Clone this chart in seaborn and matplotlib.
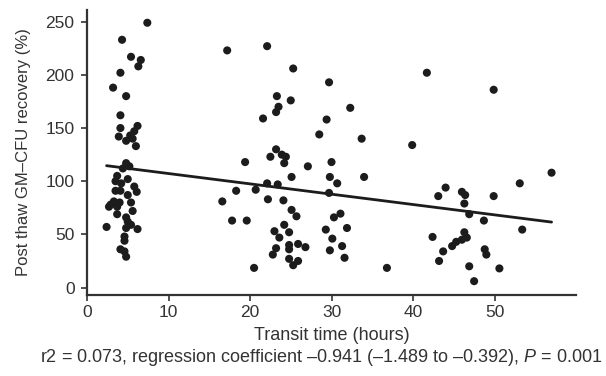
import numpy as np
import pandas as pd
import matplotlib
matplotlib.use("Agg")
import matplotlib.pyplot as plt
import seaborn as sns

# Transit time (hours) and post-thaw GM-CFU recovery (%)
transit_hours = [
    7.4, 4.3, 5.4, 6.6, 6.3, 4.1, 3.2, 4.8, 4.1, 4.1, 6.2, 5.8, 5.3, 3.9, 4.8, 5.6,
    6.0, 4.8, 5.2, 4.4, 3.7, 3.5, 5.0, 4.2, 5.8, 6.1, 3.5, 4.1, 5.0, 3.3, 5.4, 2.9,
    2.7, 3.7, 4.0, 5.6, 3.7, 4.8, 5.0, 5.4, 6.2, 2.4, 4.8, 4.6, 4.6, 4.1, 4.6, 4.8,
    17.2, 22.1, 25.3, 23.3, 25.0, 23.5, 23.2, 21.6, 23.2, 23.9, 22.5, 24.2, 19.4,
    25.1, 22.1, 23.4, 20.7, 18.3, 16.6, 22.2, 24.1, 25.1, 25.7, 17.8, 19.6, 24.2,
    23.0, 24.8, 23.6, 24.8, 23.2, 25.9, 26.8, 24.8, 22.8, 24.8, 25.9, 25.3, 20.5,
    24.4,
    29.7, 32.3, 29.4, 28.5, 33.7, 39.9, 41.7, 30.0, 27.1, 29.8, 30.7, 34.0, 29.7,
    31.1, 30.3, 31.9, 29.3, 30.1, 31.3, 29.8, 31.6, 36.8,
    49.9, 57.0, 53.1, 44.0, 43.1, 46.0, 46.4, 49.9, 46.3, 46.9, 48.7, 53.4, 42.4,
    46.3, 46.6, 46.0, 45.3, 44.8, 43.7, 43.2, 48.8, 49.0, 46.9, 50.6, 47.5,
]
recovery_pct = [
    249, 233, 217, 214, 208, 202, 188, 180, 162, 150, 152, 147, 143, 142, 138, 140,
    133, 117, 114, 112, 105, 100, 102, 98, 95, 90, 91, 91, 87, 81, 80, 78,
    76, 76, 80, 72, 69, 66, 62, 59, 55, 57, 56, 48, 44, 36, 34, 29,
    223, 227, 206, 180, 176, 170, 165, 159, 130, 125, 123, 117, 118,
    104, 98, 97, 92, 91, 81, 83, 82, 73, 67, 63, 63, 59,
    53, 52, 47, 40, 37, 41, 38, 36, 31, 27, 25, 21, 18.5,
    123,
    193, 169, 158, 144, 140, 134, 202, 118, 114, 104, 98, 104, 89,
    69.5, 66, 56, 54.5, 46, 39, 35, 28, 18.5,
    186, 108, 98, 94, 86, 90, 87, 86, 79, 69, 63, 54.5, 47.6,
    52, 47, 45, 43, 39, 34, 25, 36, 31, 20, 18, 6,
]

x_ticks = [0, 10, 20, 30, 40, 50]
y_ticks = [0, 50, 100, 150, 200, 250]

df = pd.DataFrame({"transit": transit_hours, "recovery": recovery_pct})

sns.set_theme(style="ticks")
plt.rcParams["font.family"] = ["Liberation Sans", "DejaVu Sans"]
plt.rcParams["mathtext.fontset"] = "custom"
plt.rcParams["mathtext.rm"] = "Liberation Sans"
plt.rcParams["mathtext.it"] = "Liberation Sans:italic"

fig = plt.figure(figsize=(6.06, 3.76), dpi=100)
ax = fig.add_axes([87 / 606, 1 - 295 / 376, (576 - 87) / 606, (295 - 10) / 376])

sns.regplot(
    data=df, x="transit", y="recovery", ax=ax, ci=None,
    scatter_kws=dict(s=34, color="#1c1c1c", edgecolor="none", alpha=1),
    line_kws=dict(color="#1c1c1c", lw=2.0),
)

ax.set_xlim(0, 60)
ax.set_ylim(-7, 261)
ax.set_xticks(x_ticks)
ax.set_yticks(y_ticks)
for s in ["top", "right"]:
    ax.spines[s].set_visible(False)
for s in ["left", "bottom"]:
    ax.spines[s].set_linewidth(1.6)
    ax.spines[s].set_color("#333333")
ax.tick_params(axis="both", length=4, width=1.2, color="#333333",
               labelsize=12.5, labelcolor="#333333", pad=5)
ax.tick_params(axis="x", pad=3)
ax.set_xlabel("Transit time (hours)", fontsize=13, color="#333333", labelpad=5)
ax.set_ylabel("Post thaw GM\u2013CFU recovery (%)", fontsize=12, color="#333333", labelpad=10)

fig.text(321 / 606, 1 - 358 / 376,
         "r2 = 0.073, regression coefficient \u20130.941 (\u20131.489 to \u20130.392), $P$ = 0.001",
         ha="center", va="center", fontsize=13, color="#333333")

fig.savefig("out.png", dpi=100)
